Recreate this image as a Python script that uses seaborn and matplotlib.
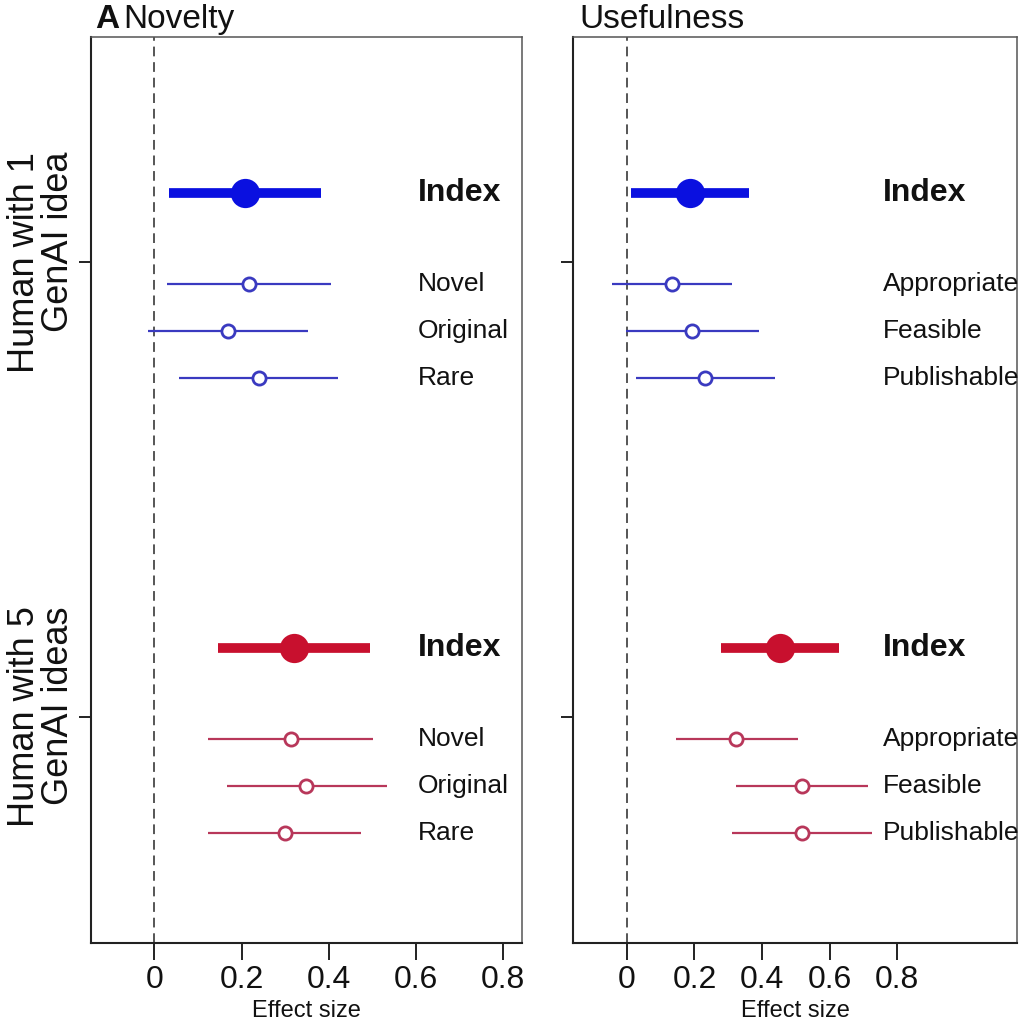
import numpy as np
import pandas as pd
import matplotlib.pyplot as plt
import seaborn as sns

sns.set_theme(style="white")
plt.rcParams['font.family'] = ['Liberation Sans', 'DejaVu Sans']
plt.rcParams['text.color'] = '#111111'

# Group labels (y axis) and item labels per outcome
groups = ['Human with 1\nGenAI idea', 'Human with 5\nGenAI ideas']
novelty_items = ['Index', 'Novel', 'Original', 'Rare']
usefulness_items = ['Index', 'Appropriate', 'Feasible', 'Publishable']

# Novelty: effect size and CI, group 1 rows then group 2 rows
nov_est = [0.207, 0.216, 0.168, 0.239, 0.320, 0.313, 0.348, 0.299]
nov_lo = [0.033, 0.030, -0.015, 0.056, 0.147, 0.124, 0.166, 0.124]
nov_hi = [0.382, 0.405, 0.353, 0.420, 0.494, 0.502, 0.534, 0.474]

# Usefulness
use_est = [0.186, 0.133, 0.194, 0.230, 0.453, 0.324, 0.518, 0.519]
use_lo = [0.011, -0.043, -0.003, 0.027, 0.278, 0.145, 0.322, 0.312]
use_hi = [0.360, 0.310, 0.390, 0.438, 0.628, 0.505, 0.713, 0.725]

xticks = [0, 0.2, 0.4, 0.6, 0.8]

# colours: index and sub-items per group
index_cols = ['#0a10e0', '#c8102e']
item_cols = ['#3a3ac0', '#b8375a']

# vertical layout of rows inside a group
row_off = [0.0, 1.94, 2.94, 3.94]
group_step = 9.68
tick_off = 1.47


def build(items, est, lo, hi):
    rows = []
    for g in range(len(groups)):
        for i, item in enumerate(items):
            k = g * len(items) + i
            rows.append({'group': g, 'item': item, 'is_index': i == 0,
                         'est': est[k], 'lo': lo[k], 'hi': hi[k],
                         'y': g * group_step + row_off[i]})
    return pd.DataFrame(rows)


nov = build(novelty_items, nov_est, nov_lo, nov_hi)
use = build(usefulness_items, use_est, use_lo, use_hi)

fig = plt.figure(figsize=(10.24, 10.24), dpi=100)
ax1 = fig.add_axes([0.0889, 0.0791, 0.4209, 0.8848])
ax2 = fig.add_axes([0.5600, 0.0791, 0.4332, 0.8848])


def draw(ax, df, xlim, label_x, show_ylabels):
    ax.axvline(0, color='#555555', lw=1.4, dashes=(5, 3), zorder=1)
    for g in range(len(groups)):
        sub = df[df['group'] == g]
        idx = sub[sub['is_index']]
        rest = sub[~sub['is_index']]
        ax.hlines(idx['y'], idx['lo'], idx['hi'], color=index_cols[g], lw=7, zorder=2)
        sns.scatterplot(data=idx, x='est', y='y', ax=ax, color=index_cols[g],
                        s=380, edgecolor=index_cols[g], zorder=3, legend=False)
        ax.hlines(rest['y'], rest['lo'], rest['hi'], color=item_cols[g], lw=1.6, zorder=2)
        sns.scatterplot(data=rest, x='est', y='y', ax=ax, color='white',
                        s=90, edgecolor=item_cols[g], linewidth=2, zorder=3, legend=False)
        for _, r in sub.iterrows():
            if r['is_index']:
                ax.text(label_x, r['y'], r['item'], fontsize=23, fontweight='bold',
                        va='center', ha='left', color='#111111')
            else:
                ax.text(label_x, r['y'], r['item'], fontsize=19,
                        va='center', ha='left', color='#111111')
    ax.set_xlim(*xlim)
    ax.set_ylim(15.96, -3.32)
    ax.set_xticks(xticks)
    ax.set_xticklabels(['0', '0.2', '0.4', '0.6', '0.8'], fontsize=23)
    ax.set_yticks([g * group_step + tick_off for g in range(len(groups))])
    if show_ylabels:
        ax.set_yticklabels(groups, rotation=90, fontsize=26, va='center',
                           ha='right', linespacing=0.95)
    else:
        ax.set_yticklabels([])
    ax.set_xlabel('')
    ax.set_ylabel('')
    ax.tick_params(axis='x', direction='out', length=12, width=1.3, pad=4,
                   colors='#111111', bottom=True)
    ax.tick_params(axis='y', direction='out', length=9, width=1.3, pad=2,
                   colors='#111111', left=True)
    for side in ['left', 'bottom']:
        ax.spines[side].set_linewidth(1.5)
        ax.spines[side].set_color('#222222')
    for side in ['top', 'right']:
        ax.spines[side].set_linewidth(1.1)
        ax.spines[side].set_color('#555555')


draw(ax1, nov, (-0.145, 0.843), 0.605, True)
draw(ax2, use, (-0.158, 1.154), 0.757, False)

# panel titles
fig.text(0.0928, 0.9725, 'A', fontsize=24, fontweight='bold', va='baseline', ha='left')
fig.text(0.1200, 0.9725, 'Novelty', fontsize=24, va='baseline', ha='left')
fig.text(0.5660, 0.9725, 'Usefulness', fontsize=24, va='baseline', ha='left')

# x axis titles
fig.text(0.2993, 0.002, 'Effect size', fontsize=17, va='bottom', ha='center')
fig.text(0.7764, 0.002, 'Effect size', fontsize=17, va='bottom', ha='center')

fig.savefig('out.png', dpi=100)
